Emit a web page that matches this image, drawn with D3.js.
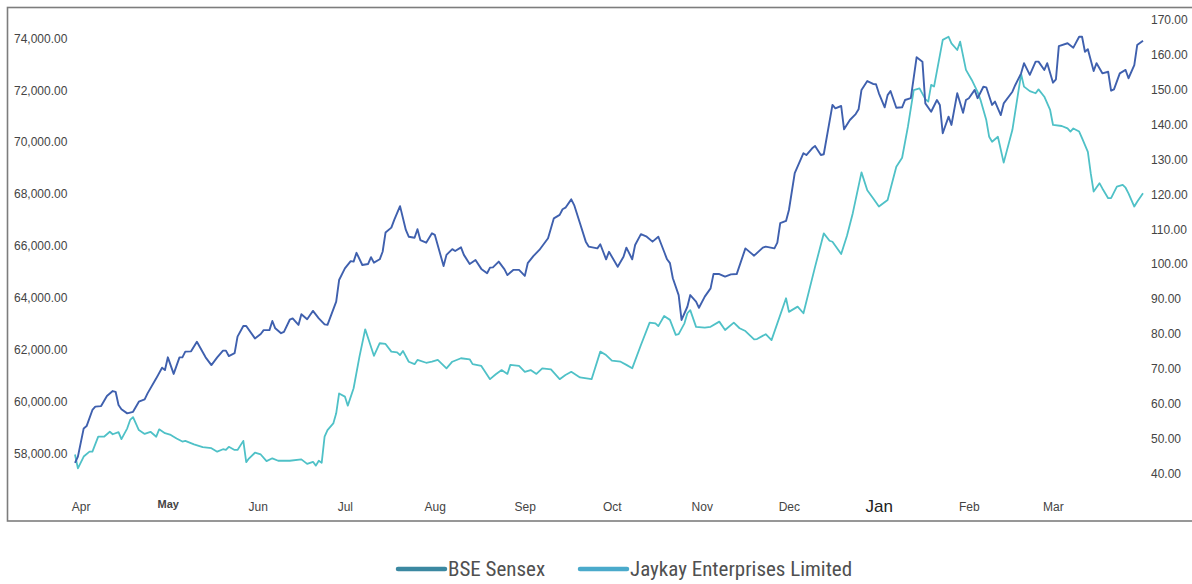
<!DOCTYPE html>
<html>

<head>
    <title>BSE Sensex vs Jaykay Enterprises</title>
    <style>
      body {
        margin: 0;
        background: #fff;
      }
      .axis path {
        stroke: none;
      }
      .axis text {
        font-family: "Liberation Sans", Arial, sans-serif;
        font-size: 12px;
        fill: #444;
      }
    </style>
</head>

<body>
    <script src="https://d3js.org/d3.v7.min.js"></script>
    <script type="text/javascript">

        /*********************************
         * Datas
         *********************************/

        var sensexDates = [
            "2023-03-29","2023-03-30","2023-04-01","2023-04-02","2023-04-04","2023-04-05","2023-04-07","2023-04-09",
            "2023-04-11","2023-04-12","2023-04-13","2023-04-14","2023-04-16","2023-04-17","2023-04-18","2023-04-20",
            "2023-04-22","2023-04-23","2023-04-26","2023-04-28","2023-04-29","2023-04-30","2023-05-02","2023-05-04",
            "2023-05-05","2023-05-06","2023-05-08","2023-05-10","2023-05-13","2023-05-15","2023-05-17","2023-05-19",
            "2023-05-20","2023-05-21","2023-05-23","2023-05-24","2023-05-26","2023-05-27","2023-05-30","2023-06-01",
            "2023-06-02","2023-06-04","2023-06-05","2023-06-06","2023-06-08","2023-06-09","2023-06-11","2023-06-12",
            "2023-06-14","2023-06-15","2023-06-17","2023-06-18","2023-06-19","2023-06-21","2023-06-23","2023-06-24",
            "2023-06-27","2023-06-28","2023-06-30","2023-07-02","2023-07-03","2023-07-04","2023-07-06","2023-07-08",
            "2023-07-09","2023-07-10","2023-07-12","2023-07-13","2023-07-14","2023-07-16","2023-07-17","2023-07-19",
            "2023-07-21","2023-07-22","2023-07-24","2023-07-25","2023-07-26","2023-07-28","2023-07-30","2023-07-31",
            "2023-08-03","2023-08-04","2023-08-06","2023-08-07","2023-08-09","2023-08-10","2023-08-12","2023-08-14",
            "2023-08-16","2023-08-18","2023-08-19","2023-08-20","2023-08-22","2023-08-24","2023-08-25","2023-08-27",
            "2023-08-29","2023-08-31","2023-09-01","2023-09-03","2023-09-05","2023-09-08","2023-09-10","2023-09-12",
            "2023-09-13","2023-09-14","2023-09-16","2023-09-17","2023-09-19","2023-09-21","2023-09-22","2023-09-25",
            "2023-09-26","2023-09-28","2023-09-29","2023-10-02","2023-10-04","2023-10-05","2023-10-07","2023-10-08",
            "2023-10-10","2023-10-12","2023-10-14","2023-10-16","2023-10-18","2023-10-19","2023-10-20","2023-10-21",
            "2023-10-23","2023-10-24","2023-10-26","2023-10-27","2023-10-29","2023-10-30","2023-11-01","2023-11-03",
            "2023-11-04","2023-11-06","2023-11-08","2023-11-10","2023-11-12","2023-11-15","2023-11-18","2023-11-21",
            "2023-11-22","2023-11-25","2023-11-26","2023-11-27","2023-11-29","2023-11-30","2023-12-02","2023-12-05",
            "2023-12-06","2023-12-08","2023-12-09","2023-12-11","2023-12-12","2023-12-15","2023-12-16","2023-12-18",
            "2023-12-19","2023-12-21","2023-12-23","2023-12-24","2023-12-25","2023-12-27","2023-12-29","2023-12-30",
            "2023-12-31","2024-01-02","2024-01-03","2024-01-04","2024-01-06","2024-01-08","2024-01-09","2024-01-11",
            "2024-01-13","2024-01-15","2024-01-16","2024-01-18","2024-01-20","2024-01-21","2024-01-22","2024-01-24",
            "2024-01-25","2024-01-27","2024-01-29","2024-01-30","2024-01-31","2024-02-02","2024-02-03","2024-02-05",
            "2024-02-06","2024-02-08","2024-02-09","2024-02-11","2024-02-12","2024-02-15","2024-02-16","2024-02-18",
            "2024-02-19","2024-02-21","2024-02-23","2024-02-24","2024-02-26","2024-02-27","2024-02-29","2024-03-01",
            "2024-03-02","2024-03-05","2024-03-07","2024-03-09","2024-03-10","2024-03-11","2024-03-12","2024-03-14",
            "2024-03-15","2024-03-17","2024-03-19","2024-03-20","2024-03-21","2024-03-23","2024-03-25","2024-03-26",
            "2024-03-28","2024-03-29","2024-03-31"
        ];

        var sensexValues = [
            57630,57870,58960,59050,59670,59800,59820,60210,
            60400,60370,59860,59700,59540,59570,59600,59990,
            60080,60310,60890,61300,61210,61700,61060,61700,
            61700,61920,61930,62300,61700,61400,61700,61960,
            61960,61750,61860,62500,62910,62910,62430,62600,
            62750,62750,63100,62820,62630,62680,63150,63200,
            62950,63360,63170,63330,63490,63200,62970,62950,
            63850,64680,65130,65410,65390,65730,65260,65300,
            65560,65350,65480,65770,66510,66700,67000,67530,
            66610,66350,66310,66640,66220,66120,66480,66420,
            65220,65650,65870,65800,65940,65650,65300,65450,
            65110,64940,65160,65170,65390,65090,64870,65070,
            65070,64840,65330,65610,65840,66290,67060,67190,
            67410,67470,67790,67570,66870,66160,65970,65900,
            66060,65480,65770,65190,65580,65930,65480,66030,
            66450,66350,66160,66350,65770,65480,65330,64750,
            64100,63140,63650,64100,63850,63610,64040,64360,
            64910,64910,64810,64900,64910,65900,65620,65930,
            65970,65900,66120,66870,66960,67380,68800,69570,
            69500,69760,69850,69500,69530,71430,71300,71390,
            70490,70850,71080,71260,72010,72350,72240,72230,
            71880,71340,71810,71970,71320,71340,71620,71690,
            73270,73100,71490,71170,71620,71430,70340,70980,
            70660,71880,71130,71620,71690,72010,71690,72130,
            72110,71430,71560,71040,71490,71940,72200,72650,
            73040,72590,73100,73100,72780,73040,72290,72420,
            73700,73810,73640,74060,74060,73480,73580,72740,
            73040,72650,72710,71980,72030,72650,72780,72460,
            72970,73740,73910
        ];

        var jaykayDates = [
            "2023-03-29","2023-03-30","2023-04-01","2023-04-03","2023-04-04","2023-04-06","2023-04-08","2023-04-10",
            "2023-04-11","2023-04-13","2023-04-14","2023-04-16","2023-04-17","2023-04-18","2023-04-20","2023-04-22",
            "2023-04-24","2023-04-26","2023-04-27","2023-04-29","2023-05-01","2023-05-03","2023-05-05","2023-05-06",
            "2023-05-09","2023-05-12","2023-05-15","2023-05-17","2023-05-19","2023-05-20","2023-05-21","2023-05-23",
            "2023-05-24","2023-05-26","2023-05-27","2023-05-28","2023-05-30","2023-06-01","2023-06-03","2023-06-05",
            "2023-06-07","2023-06-11","2023-06-15","2023-06-17","2023-06-19","2023-06-20","2023-06-21","2023-06-22",
            "2023-06-23","2023-06-24","2023-06-26","2023-06-27","2023-06-28","2023-06-30","2023-07-01","2023-07-03",
            "2023-07-05","2023-07-07","2023-07-10","2023-07-12","2023-07-14","2023-07-16","2023-07-18","2023-07-19",
            "2023-07-20","2023-07-22","2023-07-24","2023-07-25","2023-07-28","2023-07-30","2023-08-01","2023-08-04",
            "2023-08-06","2023-08-09","2023-08-12","2023-08-13","2023-08-16","2023-08-19","2023-08-21","2023-08-23",
            "2023-08-25","2023-08-26","2023-08-29","2023-08-31","2023-09-02","2023-09-04","2023-09-06","2023-09-09",
            "2023-09-12","2023-09-14","2023-09-16","2023-09-19","2023-09-23","2023-09-26","2023-09-28","2023-09-30",
            "2023-10-03","2023-10-05","2023-10-07","2023-10-10","2023-10-13","2023-10-15","2023-10-16","2023-10-18",
            "2023-10-20","2023-10-22","2023-10-23","2023-10-25","2023-10-26","2023-10-27","2023-10-29","2023-11-01",
            "2023-11-03","2023-11-06","2023-11-08","2023-11-11","2023-11-13","2023-11-15","2023-11-18","2023-11-19",
            "2023-11-22","2023-11-24","2023-11-29","2023-11-30","2023-12-03","2023-12-05","2023-12-09","2023-12-12",
            "2023-12-14","2023-12-15","2023-12-18","2023-12-20","2023-12-22","2023-12-25","2023-12-27","2023-12-29",
            "2023-12-31","2024-01-03","2024-01-06","2024-01-08","2024-01-10","2024-01-12","2024-01-14","2024-01-16",
            "2024-01-17","2024-01-18","2024-01-19","2024-01-22","2024-01-24","2024-01-25","2024-01-27","2024-01-28",
            "2024-01-30","2024-02-01","2024-02-03","2024-02-04","2024-02-06","2024-02-07","2024-02-08","2024-02-10",
            "2024-02-12","2024-02-15","2024-02-18","2024-02-19","2024-02-21","2024-02-23","2024-02-24","2024-02-26",
            "2024-02-28","2024-02-29","2024-03-03","2024-03-05","2024-03-06","2024-03-07","2024-03-09","2024-03-10",
            "2024-03-12","2024-03-13","2024-03-14","2024-03-16","2024-03-17","2024-03-19","2024-03-20","2024-03-22",
            "2024-03-24","2024-03-25","2024-03-26","2024-03-28","2024-03-29","2024-03-31"
        ];

        var jaykayValues = [
            45.4,41.4,44.8,46.2,46.2,50.5,50.5,51.9,
            51.2,51.8,49.8,52.9,55.3,56.1,52.4,51.3,
            51.9,50.5,52.6,51.5,51.0,50.0,49.1,49.3,
            48.3,47.5,47.2,46.2,46.9,46.7,47.6,46.7,
            46.7,49.3,43.2,44.3,45.9,45.4,43.5,44.3,
            43.6,43.6,44.0,42.7,43.3,42.2,43.6,43.0,
            50.5,52.4,54.3,57.2,62.9,62.0,59.4,64.4,
            73.4,81.3,73.7,77.3,77.1,74.9,74.7,73.9,
            75.1,72.0,71.3,72.5,71.7,72.0,72.5,70.1,
            72.0,73.0,72.7,71.3,70.8,67.0,68.4,69.6,
            68.5,71.1,70.8,69.1,69.6,68.5,70.1,69.8,
            67.0,68.2,69.1,67.5,67.0,74.9,73.9,72.3,
            72.0,71.1,70.1,76.8,83.2,83.0,82.2,85.1,
            84.0,79.7,79.9,83.0,85.9,86.8,82.0,81.8,
            82.0,83.5,81.1,83.2,81.6,80.8,78.4,78.5,
            79.9,78.2,90.2,86.3,87.8,85.9,99.2,108.8,
            106.7,106.4,102.9,108.1,114.6,126.3,121.2,118.9,
            116.5,118.4,127.9,130.5,139.4,149.9,150.4,147.3,
            146.6,151.4,150.9,164.3,165.2,163.3,161.4,163.8,
            155.7,152.8,149.4,147.1,141.3,136.5,135.1,136.5,
            129.1,138.5,154.5,150.9,149.6,149.0,150.1,148.0,
            144.2,139.9,139.6,138.9,138.0,138.9,138.0,136.1,
            132.2,126.0,120.8,123.2,121.7,118.9,118.9,122.2,
            122.7,121.9,120.3,116.5,117.9,120.3
        ];

        var leftTicks = [58000, 60000, 62000, 64000, 66000, 68000, 70000, 72000, 74000];
        var rightTicks = [40, 50, 60, 70, 80, 90, 100, 110, 120, 130, 140, 150, 160, 170];
        var monthLabels = ["Apr", "May", "Jun", "Jul", "Aug", "Sep", "Oct", "Nov", "Dec", "Jan", "Feb", "Mar"];
        var seriesNames = ["BSE Sensex", "Jaykay Enterprises Limited"];

        var parseDate = d3.timeParse("%Y-%m-%d");

        var sensex = sensexDates.map(function(d, i) {
            return [parseDate(d), sensexValues[i]];
        });
        var jaykay = jaykayDates.map(function(d, i) {
            return [parseDate(d), jaykayValues[i]];
        });

        /*********************************
         * Defining Scales
         *********************************/

        var xScale = d3.scaleTime()
            .domain([new Date(2023, 2, 29), new Date(2024, 2, 31)])
            .range([75, 1143]);

        var yLeft = d3.scaleLinear()
            .domain([58000, 74000])
            .range([453.3, 38.3]);

        var yRight = d3.scaleLinear()
            .domain([40, 170])
            .range([473.3, 20]);

        /*********************************
         * Append SVG element
         *********************************/

        var svg = d3.select("body")
            .append("svg")
            .attr("width", 1192)
            .attr("height", 584)
            .style("display", "block");

        svg.append("rect")
            .attr("width", 1192)
            .attr("height", 584)
            .attr("fill", "#fff");

        // frame round the plot
        svg.append("rect")
            .attr("x", 7.5)
            .attr("y", 7.5)
            .attr("width", 1200)
            .attr("height", 513.5)
            .attr("fill", "none")
            .attr("stroke", "#7d7d7d")
            .attr("stroke-width", 1.6);

        /*********************************
         * Setting Up Axises
         *********************************/

        var leftAxis = d3.axisRight(yLeft)
            .tickValues(leftTicks)
            .tickSize(0)
            .tickPadding(0)
            .tickFormat(d3.format(",.2f"));

        svg.append("g")
            .attr("class", "axis")
            .attr("transform", "translate(14, 0)")
            .call(leftAxis);

        var rightAxis = d3.axisRight(yRight)
            .tickValues(rightTicks)
            .tickSize(0)
            .tickPadding(0)
            .tickFormat(d3.format(".2f"));

        svg.append("g")
            .attr("class", "axis")
            .attr("transform", "translate(1151, 0)")
            .call(rightAxis);

        var monthTicks = d3.timeMonth.range(new Date(2023, 3, 1), new Date(2024, 3, 1));

        var xAxis = d3.axisBottom(xScale)
            .tickValues(monthTicks)
            .tickSize(0)
            .tickPadding(2)
            .tickFormat(function(d, i) { return monthLabels[i]; });

        var xg = svg.append("g")
            .attr("class", "axis")
            .attr("transform", "translate(-3, 500)")
            .call(xAxis);

        // the reference has a couple of odd looking month labels
        xg.selectAll("text")
            .filter(function(d, i) { return monthLabels[i] == "Jan"; })
            .style("font-size", "17px")
            .style("fill", "#222")
            .attr("dy", "0.6em");
        xg.selectAll("text")
            .filter(function(d, i) { return monthLabels[i] == "May"; })
            .style("font-weight", "bold")
            .style("font-size", "11px")
            .attr("dy", "0.55em");

        /*********************************
         * Lines
         *********************************/

        var sensexLine = d3.line()
            .x(function(d) { return xScale(d[0]); })
            .y(function(d) { return yLeft(d[1]); });

        var jaykayLine = d3.line()
            .x(function(d) { return xScale(d[0]); })
            .y(function(d) { return yRight(d[1]); });

        svg.append("path")
            .datum(jaykay)
            .attr("d", jaykayLine)
            .attr("fill", "none")
            .attr("stroke", "#4fc1c7")
            .attr("stroke-width", 1.8)
            .attr("stroke-linejoin", "round");

        svg.append("path")
            .datum(sensex)
            .attr("d", sensexLine)
            .attr("fill", "none")
            .attr("stroke", "#3f60ae")
            .attr("stroke-width", 1.9)
            .attr("stroke-linejoin", "round");

        /*********************************
         * Legend
         *********************************/

        var legendColors = ["#3b88a1", "#4aaacb"];
        var legendX = [398, 580];

        var legend = svg.selectAll(".legend")
            .data(seriesNames)
            .enter()
            .append("g")
            .attr("class", "legend")
            .attr("transform", function(d, i) {
                return "translate(" + legendX[i] + ", 569)";
            });

        legend.append("line")
            .attr("x1", 0)
            .attr("x2", 47)
            .attr("stroke", function(d, i) { return legendColors[i]; })
            .attr("stroke-width", 4.5)
            .attr("stroke-linecap", "round");

        legend.append("text")
            .attr("x", 50)
            .attr("y", 7)
            .attr("font-family", "'Liberation Sans Narrow', 'Roboto Condensed', 'Arial Narrow', sans-serif")
            .attr("font-size", "21px")
            .attr("fill", "#505050")
            .text(function(d) { return d; });

    </script>
</body>

</html>
